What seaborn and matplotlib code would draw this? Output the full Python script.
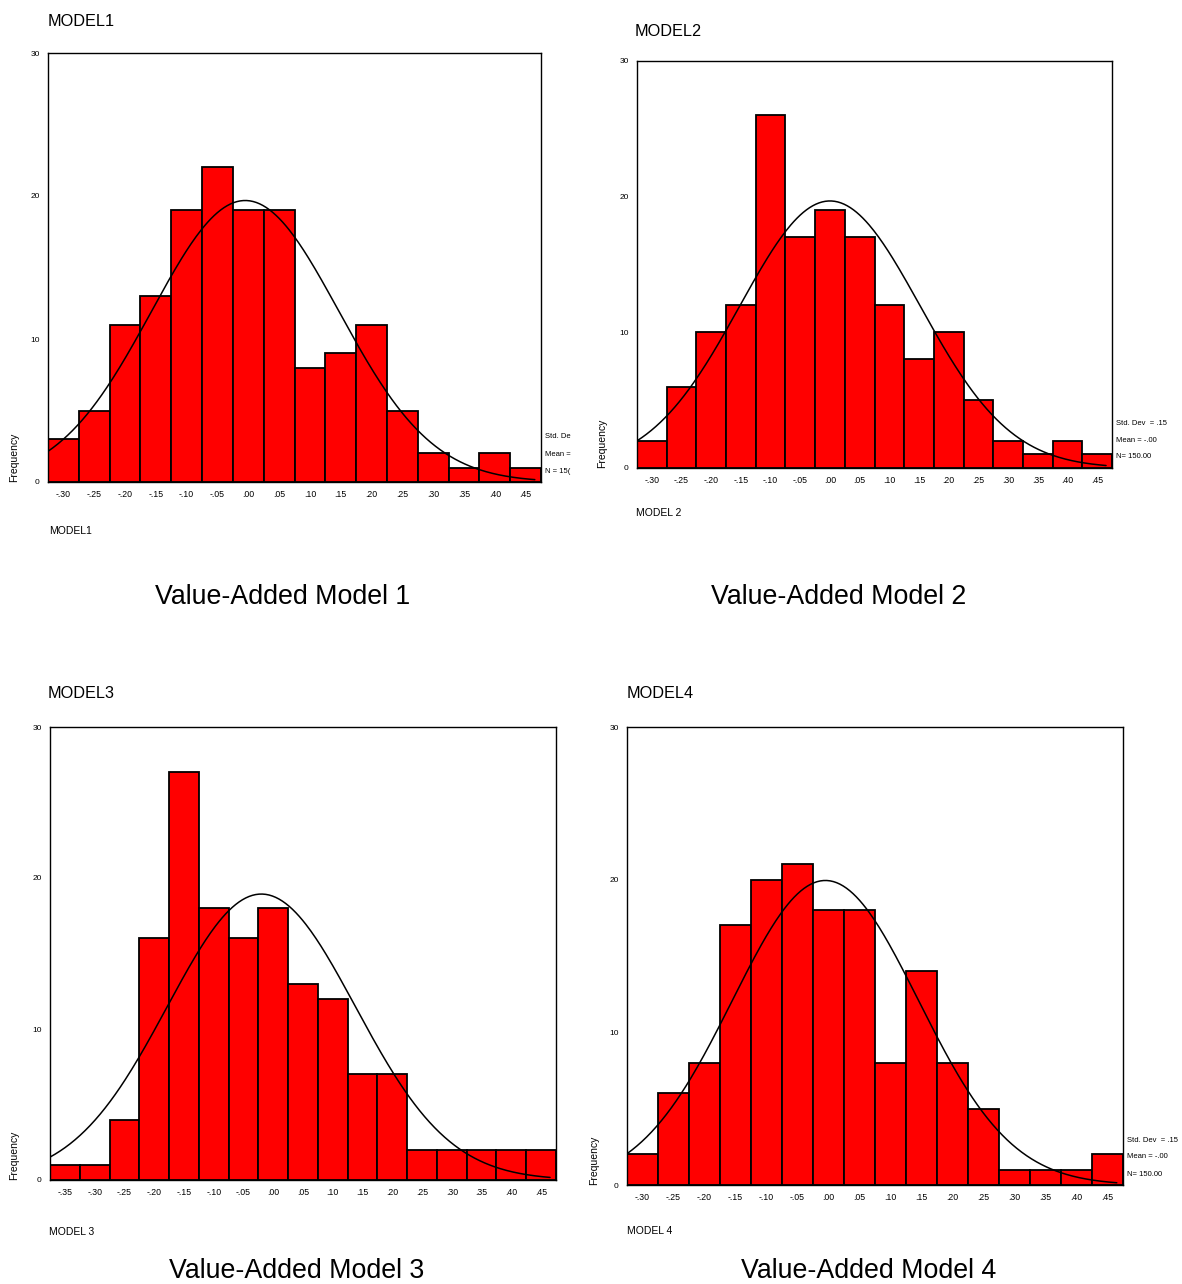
import numpy as np
import pandas as pd
import matplotlib
matplotlib.use("Agg")
import matplotlib.pyplot as plt
import seaborn as sns

sns.set_style("white")
plt.rcParams['font.family'] = ['Liberation Sans', 'DejaVu Sans']
plt.rcParams['text.color'] = 'black'
plt.rcParams['xtick.color'] = 'black'
plt.rcParams['ytick.color'] = 'black'

# ---- data ----
centers_a = [-.30, -.25, -.20, -.15, -.10, -.05, .00, .05, .10, .15, .20, .25, .30, .35, .40, .45]
centers_b = [-.35] + centers_a
model1 = [3, 5, 11, 13, 19, 22, 19, 19, 8, 9, 11, 5, 2, 1, 2, 1]
model2 = [2, 6, 10, 12, 26, 17, 19, 17, 12, 8, 10, 5, 2, 1, 2, 1]
model3 = [1, 1, 4, 16, 27, 18, 16, 18, 13, 12, 7, 7, 2, 2, 2, 2, 2]
model4 = [2, 6, 8, 17, 20, 21, 18, 18, 8, 14, 8, 5, 1, 1, 1, 2]
curve_means = [-0.005, 0.0, -0.02, -0.005]
curve_sds = [0.152, 0.152, 0.158, 0.150]
n_obs = 150
bin_width = 0.05
names = ["MODEL1", "MODEL2", "MODEL3", "MODEL4"]
bottom_names = ["MODEL1", "MODEL 2", "MODEL 3", "MODEL 4"]
captions = ["Value-Added Model 1", "Value-Added Model 2", "Value-Added Model 3", "Value-Added Model 4"]
stats_texts = [["Std. De", "Mean =", "N = 15("],
               ["Std. Dev  = .15", "Mean = -.00", "N= 150.00"],
               None,
               ["Std. Dev  = .15", "Mean = -.00", "N= 150.00"]]

W, H = 1182, 1284
fig = plt.figure(figsize=(W / 100, H / 100), dpi=100)

# pixel boxes (l, r, t, b)
boxes = [(48, 541, 53, 482), (637, 1112, 61, 468), (50, 556, 727, 1180), (627, 1123, 727, 1185)]
title_pos = [(48, 22), (635, 31), (48, 693), (627, 694)]
bottom_pos = [(49, 531), (636, 513), (49, 1232), (627, 1231)]
caption_pos = [(283, 597), (839, 597), (297, 1271), (869, 1271)]
freq_x = [14, 602, 14, 594]

data = [(centers_a, model1), (centers_a, model2), (centers_b, model3), (centers_a, model4)]

def fmt(v):
    s = f"{abs(v):.2f}"[1:]
    return ("-" if v < -1e-9 else "") + s

for i, ((cen, cnt), (l, r, t, b)) in enumerate(zip(data, boxes)):
    ax = fig.add_axes([l / W, 1 - b / H, (r - l) / W, (b - t) / H])
    cen = np.array(cen)
    df = pd.DataFrame({"value": cen, "count": cnt})
    edges = [float(e) for e in np.append(cen - bin_width / 2, cen[-1] + bin_width / 2)]
    sns.histplot(data=df, x="value", weights="count", bins=edges, ax=ax, color="#ff0000",
                 edgecolor="black", linewidth=1.3, alpha=1)
    xs = np.linspace(edges[0], edges[-1] - 0.01, 300)
    mu, sd = curve_means[i], curve_sds[i]
    ys = n_obs * bin_width / (sd * np.sqrt(2 * np.pi)) * np.exp(-0.5 * ((xs - mu) / sd) ** 2)
    ax.plot(xs, ys, color="black", lw=1.1)
    ax.set_xlim(edges[0], edges[-1])
    ax.set_ylim(0, 30)
    ax.set_xticks(cen)
    ax.set_xticklabels([fmt(c) for c in cen], fontsize=6.3)
    ax.set_yticks([0, 10, 20, 30])
    ax.set_yticklabels(["0", "10", "20", "30"], fontsize=6)
    ax.tick_params(axis="both", direction="out", length=3, width=1, pad=3, colors="black")
    ax.set_xlabel("")
    ax.set_ylabel("")
    for sp in ax.spines.values():
        sp.set_color("black")
        sp.set_linewidth(1.0)
    # texts
    fig.text(title_pos[i][0] / W, 1 - title_pos[i][1] / H, names[i], fontsize=11.7, va="center", ha="left")
    fig.text(bottom_pos[i][0] / W, 1 - bottom_pos[i][1] / H, bottom_names[i], fontsize=7.5, va="center", ha="left")
    fig.text(caption_pos[i][0] / W, 1 - caption_pos[i][1] / H, captions[i], fontsize=19.3, va="center", ha="center")
    fig.text(freq_x[i] / W, 1 - (b - 25) / H, "Frequency", fontsize=7.5, rotation=90, va="center", ha="center")
    if stats_texts[i]:
        for j, s in enumerate(stats_texts[i]):
            fig.text((r + 4) / W, 1 - (b - 45 + 17 * j) / H, s, fontsize=5.5, va="center", ha="left")

fig.savefig("out.png", dpi=100)
